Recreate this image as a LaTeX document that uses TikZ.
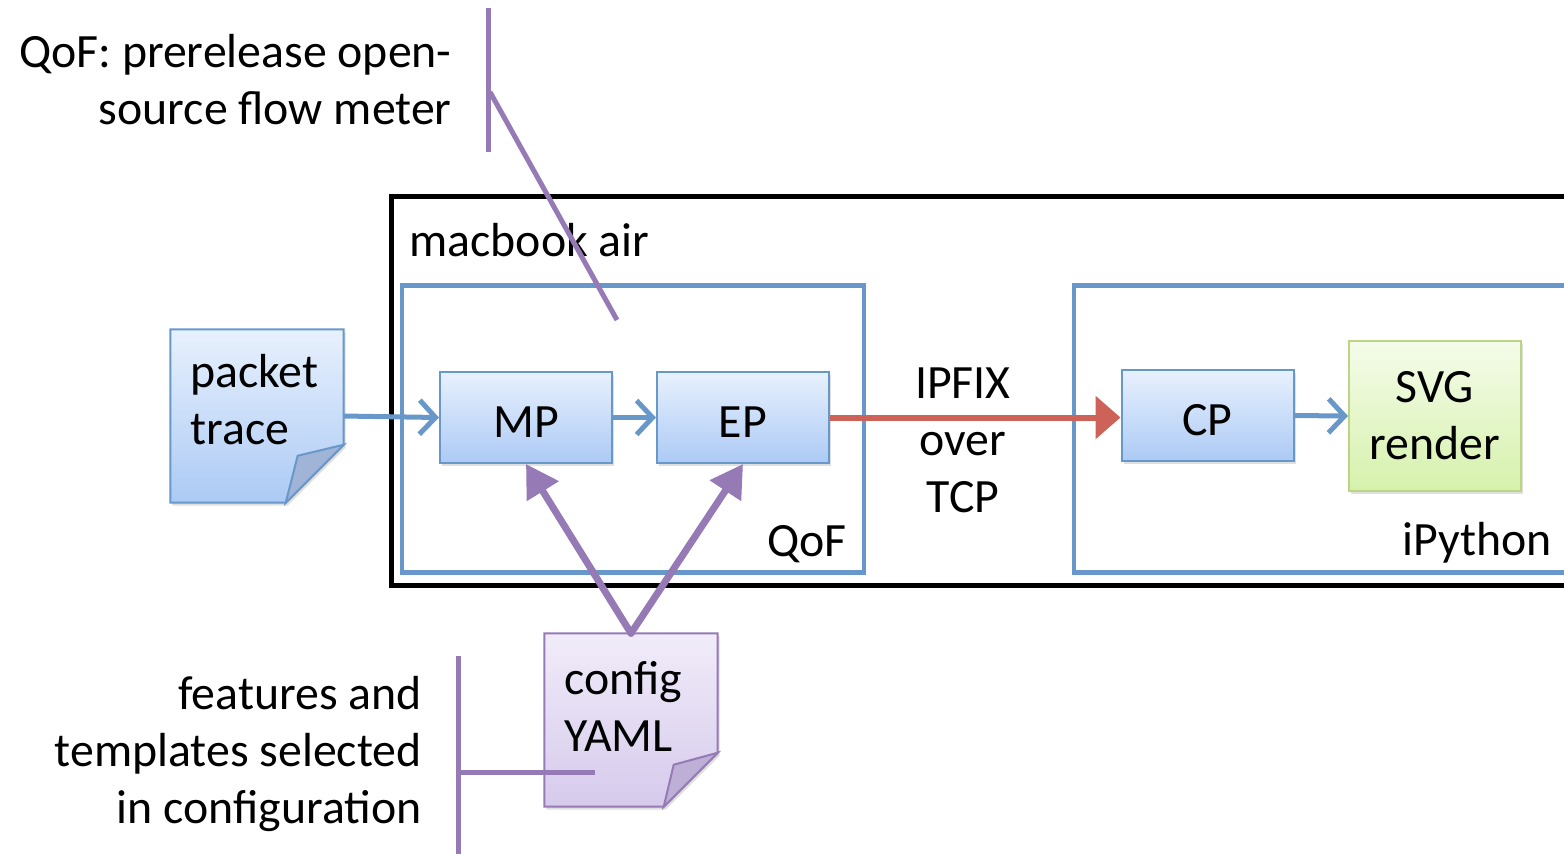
\documentclass[tikz,border=0pt]{standalone}
\usepackage{fontspec}
\setmainfont{Carlito}
\usepackage{xcolor}
\usepackage{tikz}
\usetikzlibrary{arrows.meta,shadows}
\definecolor{boxblue}{RGB}{104,151,201}
\definecolor{bluetop}{RGB}{232,241,253}
\definecolor{bluebot}{RGB}{172,202,245}
\definecolor{foldblue}{RGB}{160,180,215}
\definecolor{notepurple}{RGB}{150,122,182}
\definecolor{purpletop}{RGB}{241,236,249}
\definecolor{purplebot}{RGB}{214,202,236}
\definecolor{foldpurple}{RGB}{190,175,215}
\definecolor{greenline}{RGB}{186,214,132}
\definecolor{greentop}{RGB}{245,252,234}
\definecolor{greenbot}{RGB}{214,241,172}
\definecolor{ipfixred}{RGB}{204,98,88}
\tikzset{
    every node/.style={font=\fontsize{13.6}{16.2}\selectfont},
    soft shadow/.style={drop shadow={shadow xshift=0.02cm, shadow yshift=-0.03cm, opacity=0.25}},
    hostbox/.style={draw=black, line width=0.05cm, rectangle},
    swbox/.style={draw=boxblue, line width=0.045cm, rectangle},
    procbox/.style={draw=boxblue, line width=0.02cm, top color=bluetop, bottom color=bluebot,
        minimum width=1.72cm, minimum height=0.91cm, text height=0.40cm, text depth=0pt, soft shadow},
    renderbox/.style={draw=greenline, line width=0.02cm, top color=greentop, bottom color=greenbot,
        minimum width=1.72cm, minimum height=1.50cm, align=center, soft shadow},
    docnode/.style={rectangle, minimum size=1.72cm, inner sep=0pt},
    flowarrow/.style={draw=boxblue, line width=0.05cm, -{Straight Barb[length=0.16cm, width=0.34cm]}},
    ipfixarrow/.style={draw=ipfixred, line width=0.06cm, -{Triangle[length=0.25cm, width=0.42cm]}},
    cfgarrow/.style={draw=notepurple, line width=0.07cm, line cap=round, -{Triangle[length=0.32cm, width=0.36cm]}},
    noteline/.style={draw=notepurple, line width=0.05cm}
}

\begin{document}
\begin{tikzpicture}
        \clip (0,0) rectangle (15.64,-8.53);

        % hosts and programs
        \node[hostbox, minimum width=12.40cm, minimum height=3.89cm] (macbook) at (10.11,-3.91) {};
        \node[anchor=base west] (macbooklabel) at (3.97,-2.56) {macbook air};
        \node[swbox, minimum width=4.62cm, minimum height=2.87cm] (qof) at (6.33,-4.29) {};
        \node[anchor=base east] (qoflabel) at (8.59,-5.56) {QoF};
        \node[swbox, minimum width=5.80cm, minimum height=2.87cm] (ipython) at (13.64,-4.29) {};
        \node[anchor=base east] (ipythonlabel) at (15.64,-5.55) {iPython};

        % processes
        \node[procbox] (mp) at (5.26,-4.175) {MP};
        \node[procbox] (ep) at (7.43,-4.175) {EP};
        \node[procbox] (cp) at (12.075,-4.155) {CP};
        \node[renderbox] (svg) at (14.35,-4.16) {SVG\\render};

        % documents
        \node[docnode] (trace) at (2.57,-4.16) {};
        \shadedraw[draw=boxblue, line width=0.02cm, top color=bluetop, bottom color=bluebot, soft shadow]
            (trace.north west) -- (trace.north east) -- ([yshift=0.58cm]trace.south east)
            -- ([xshift=-0.58cm]trace.south east) -- (trace.south west) -- cycle;
        \filldraw[draw=boxblue, line width=0.02cm, fill=foldblue]
            ([yshift=0.58cm]trace.south east) -- ([xshift=-0.46cm,yshift=0.47cm]trace.south east)
            -- ([xshift=-0.58cm]trace.south east) -- cycle;
        \node[anchor=west, align=left] (tracetext) at (1.78,-4.00) {packet\\trace};

        \node[docnode] (config) at (6.31,-7.20) {};
        \shadedraw[draw=notepurple, line width=0.02cm, top color=purpletop, bottom color=purplebot, soft shadow]
            (config.north west) -- (config.north east) -- ([yshift=0.54cm]config.south east)
            -- ([xshift=-0.54cm]config.south east) -- (config.south west) -- cycle;
        \filldraw[draw=notepurple, line width=0.02cm, fill=foldpurple]
            ([yshift=0.54cm]config.south east) -- ([xshift=-0.44cm,yshift=0.42cm]config.south east)
            -- ([xshift=-0.54cm]config.south east) -- cycle;
        \node[anchor=west, align=left] (configtext) at (5.52,-7.06) {config\\YAML};

        % flows
        \draw[flowarrow] (trace.east) -- (mp.west);
        \draw[flowarrow] (mp.east) -- (ep.west);
        \draw[flowarrow] (cp.east) -- (svg.west);
        \draw[ipfixarrow] (ep.east) -- (ep.east -| cp.west);
        \node[align=center] (ipfixlabel) at (9.63,-4.40) {IPFIX\\over\\TCP};
        \draw[cfgarrow] (config.north) -- (mp.south);
        \draw[cfgarrow] (config.north) -- (ep.south);

        % notes
        \node[anchor=east, align=right] (qofnote) at (4.64,-0.80) {QoF: prerelease open-\\source flow meter};
        \coordinate (qtop) at (4.88,-0.08);
        \coordinate (qbot) at (4.88,-1.52);
        \coordinate (qknee) at (4.90,-0.92);
        \coordinate (qend) at (6.17,-3.20);
        \draw[noteline] (qtop) -- (qbot);
        \draw[noteline] (qknee) -- (qend);

        \node[anchor=east, align=right] (cfgnote) at (4.34,-7.54) {features and\\templates selected\\in configuration};
        \coordinate (ftop) at (4.58,-6.56);
        \coordinate (fbot) at (4.58,-8.60);
        \coordinate (fknee) at (4.58,-7.72);
        \coordinate (fend) at (5.95,-7.72);
        \draw[noteline] (ftop) -- (fbot);
        \draw[noteline] (fknee) -- (fend);
    \end{tikzpicture}
\end{document}
